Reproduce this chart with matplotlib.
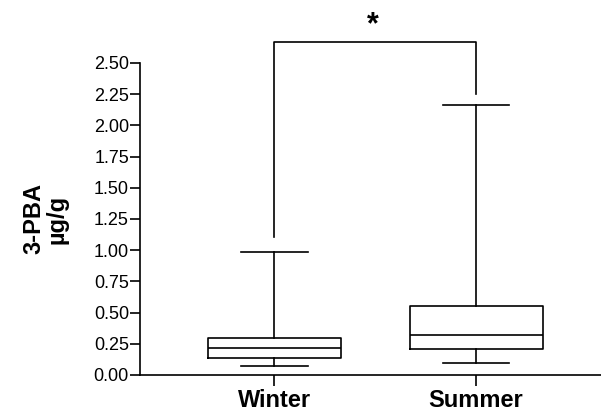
import matplotlib
matplotlib.use('Agg')
import matplotlib.pyplot as plt
from matplotlib.ticker import MultipleLocator, FormatStrFormatter

plt.rcParams['font.family'] = ['Liberation Sans', 'DejaVu Sans']

# data
seasons = ['Winter', 'Summer']
whisker_low = [0.072, 0.094]
q1 = [0.14, 0.208]
median = [0.22, 0.323]
q3 = [0.30, 0.555]
whisker_high = [0.988, 2.16]
bracket_top = 2.67
bracket_legs = [1.105, 2.25]
sig_label = '*'

stats = []
for i, name in enumerate(seasons):
    stats.append({'label': name, 'whislo': whisker_low[i], 'q1': q1[i],
                  'med': median[i], 'q3': q3[i], 'whishi': whisker_high[i]})

fig = plt.figure(figsize=(6.01, 4.16), dpi=100)
ax = fig.add_axes([0.233, 0.0986, 0.767, 0.75])

lw = 1.2
positions = [1, 2]
ax.bxp(stats, positions=positions, widths=0.66, showfliers=False,
       boxprops=dict(color='black', linewidth=lw),
       medianprops=dict(color='black', linewidth=lw),
       whiskerprops=dict(color='black', linewidth=lw),
       capprops=dict(color='black', linewidth=lw),
       capwidths=0.33)

ax.set_xlim(0.333, 2.62)
ax.set_ylim(0, 2.5)
ax.yaxis.set_major_locator(MultipleLocator(0.25))
ax.yaxis.set_major_formatter(FormatStrFormatter('%.2f'))

for s in ['top', 'right']:
    ax.spines[s].set_visible(False)
for s in ['left', 'bottom']:
    ax.spines[s].set_linewidth(lw)
ax.spines['left'].set_bounds(0, 2.5)

ax.tick_params(axis='y', length=7, width=lw, labelsize=13, pad=1)
ax.tick_params(axis='x', length=8, width=lw, labelsize=17, pad=2)
ax.set_xticks(positions)
ax.set_xticklabels(seasons, fontweight='bold')

ax.set_ylabel('3-PBA\nµg/g', fontsize=17, fontweight='bold', linespacing=1.0)
ax.yaxis.set_label_coords(-0.155, 0.5)

# significance bracket
ax.plot([positions[0], positions[0], positions[1], positions[1]],
        [bracket_legs[0], bracket_top, bracket_top, bracket_legs[1]],
        color='black', linewidth=lw, clip_on=False)
ax.text(sum(positions) / 2 - 0.01, bracket_top + 0.01, sig_label, ha='center',
        va='bottom', fontsize=22, fontweight='bold')

fig.savefig('out.png', dpi=100)
